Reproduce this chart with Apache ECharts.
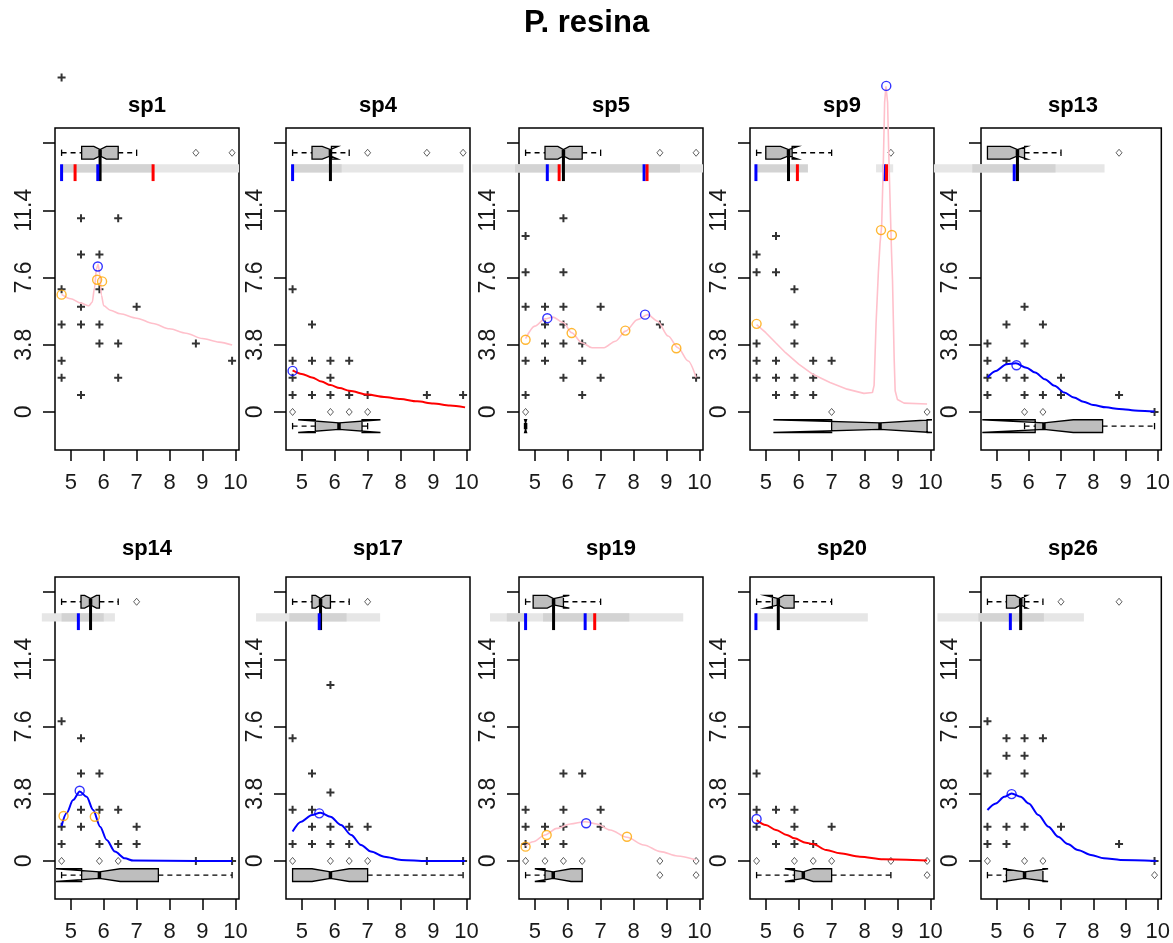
<!DOCTYPE html>
<html><head><meta charset="utf-8">
<script src="https://cdn.jsdelivr.net/npm/echarts@6/dist/echarts.min.js"></script>
<style>html,body{margin:0;padding:0;background:#fff}#c{width:1173px;height:943px}</style>
</head><body><div id="c"></div>
<script>
// ---------------- data ----------------
const TITLE = 'P. resina';
const PANELS = ['sp1','sp4','sp5','sp9','sp13','sp14','sp17','sp19','sp20','sp26'];
const X_TICKS = [5,6,7,8,9,10];
const Y_TICKS = [0,3.8,7.6,11.4,15.2];
const Y_LABELS = [0,3.8,7.6,11.4];
const X_RANGE = [4.52, 10.11];
const Y_RANGE = [-2.15, 16.05];

// black "+" observations
const PLUS = [
 [[4.72,18.9],[5.31,10.95],[6.44,10.95],[5.31,8.9],[5.87,8.9],[4.72,6.93],[5.87,6.93],[5.31,5.95],[7.0,5.95],[4.72,4.95],[5.31,4.95],[5.87,4.95],[5.87,3.87],[6.44,3.87],[8.8,3.87],[4.72,2.9],[9.9,2.9],[4.72,1.93],[6.44,1.93],[5.31,0.96]],
 [[4.72,6.93],[5.31,4.95],[4.72,2.9],[5.31,2.9],[5.87,2.9],[6.44,2.9],[4.72,1.93],[5.87,1.93],[4.72,0.96],[5.31,0.96],[5.87,0.96],[6.44,0.96],[7.0,0.96],[8.8,0.96],[9.9,0.96]],
 [[5.87,10.95],[4.72,9.95],[4.72,7.9],[5.87,7.9],[4.72,5.95],[5.31,5.95],[5.87,5.95],[7.0,5.95],[5.31,4.95],[5.87,4.95],[8.8,4.95],[5.31,3.87],[5.87,3.87],[6.44,3.87],[4.72,2.9],[5.31,2.9],[6.44,2.9],[5.87,1.93],[7.0,1.93],[9.9,1.93],[4.72,0.96],[6.44,0.96]],
 [[5.31,9.95],[4.72,8.9],[4.72,7.9],[5.31,7.9],[5.87,6.93],[5.87,4.95],[4.72,3.87],[5.87,3.87],[4.72,2.9],[5.31,2.9],[6.44,2.9],[7.0,2.9],[4.72,1.93],[5.31,1.93],[5.87,1.93],[6.44,1.93],[5.31,0.96],[5.87,0.96],[6.44,0.96]],
 [[5.87,5.95],[5.31,4.95],[6.44,4.95],[4.72,3.87],[5.87,3.87],[4.72,2.9],[5.31,2.9],[4.72,1.93],[5.31,1.93],[5.87,1.93],[7.0,1.93],[4.72,0.96],[5.87,0.96],[6.44,0.96],[7.0,0.96],[8.8,0.96],[9.9,0]],
 [[4.72,7.9],[5.31,6.93],[5.31,4.95],[5.87,4.95],[5.31,2.9],[5.87,2.9],[6.44,2.9],[4.72,1.93],[5.31,1.93],[7.0,1.93],[4.72,0.96],[5.87,0.96],[6.44,0.96],[7.0,0.96],[8.8,0],[9.9,0]],
 [[5.87,9.95],[4.72,6.93],[5.31,4.95],[5.87,3.87],[4.72,2.9],[5.31,2.9],[5.31,1.93],[5.87,1.93],[6.44,1.93],[7.0,1.93],[4.72,0.96],[5.31,0.96],[5.87,0.96],[6.44,0.96],[8.8,0],[9.9,0]],
 [[5.87,4.95],[6.44,4.95],[4.72,2.9],[5.87,2.9],[7.0,2.9],[4.72,1.93],[5.31,1.93],[5.87,1.93],[7.0,1.93],[4.72,0.96],[5.31,0.96],[5.87,0.96]],
 [[4.72,4.95],[4.72,2.9],[5.31,2.9],[5.87,2.9],[4.72,1.93],[5.87,1.93],[7.0,1.93],[5.31,0.96],[5.87,0.96],[6.44,0.96]],
 [[4.72,7.9],[5.31,6.93],[5.87,6.93],[6.44,6.93],[5.31,5.95],[5.87,5.95],[4.72,4.95],[5.87,4.95],[4.72,1.93],[5.31,1.93],[5.87,1.93],[7.0,1.93],[4.72,0.96],[5.31,0.96],[8.8,0.96],[9.9,0]]
];
// small open diamonds at zero
const ZERO_PTS = [
 [], [4.72,5.87,6.44,7.0], [4.72], [7.0,9.9], [5.87,6.44],
 [4.72,5.87,6.44], [4.72,5.87,6.44,7.0], [4.72,5.31,5.87,6.44,8.8,9.9], [4.72,5.87,6.44,7.0,8.8,9.9], [4.72,5.87,6.44]
];
// box-plot outliers (top row / bottom row)
const TOP_OUT = [[8.8,9.9],[7.0,8.8,9.9],[8.8,9.9],[8.8],[8.8],[7.0],[7.0],[],[],[7.0,8.8]];
const BOT_OUT = [[],[],[],[],[],[],[],[8.8,9.9],[9.9],[9.9]];
// notched boxes: [lowWhisker, q1, median, q3, highWhisker, notchLow, notchHigh]
const TOP_BOX = [
 [4.72,5.33,5.89,6.44,7.0,5.7,6.08],
 [4.72,5.31,5.87,5.9,6.44,5.62,6.1],
 [4.72,5.31,5.87,6.44,7.0,5.7,6.05],
 [4.72,5.0,5.69,5.8,7.0,5.45,5.98],
 [4.72,4.72,5.65,5.87,7.0,5.42,5.95],
 [4.72,5.31,5.6,5.87,6.44,5.42,5.78],
 [4.72,5.31,5.57,5.87,6.44,5.42,5.72],
 [4.72,4.95,5.57,5.87,7.0,5.38,6.05],
 [4.72,5.2,5.38,5.86,7.0,4.98,5.55],
 [4.72,5.31,5.75,5.87,6.44,5.58,5.95]
];
const BOT_BOX = [
 null,
 [4.72,5.41,6.13,6.83,7.0,4.89,7.39],
 [4.72,4.72,4.72,4.72,4.72,4.69,4.75],
 [7.0,7.0,8.47,9.9,9.9,5.23,10.05],
 [5.87,6.2,6.47,8.29,9.9,4.56,7.38],
 [4.72,5.33,5.87,7.66,9.9,4.55,6.5],
 [4.72,4.72,5.87,7.0,9.9,5.31,6.44],
 [4.72,5.31,5.56,6.44,6.44,5.0,6.1],
 [4.72,5.87,6.14,7.0,8.8,5.58,6.44],
 [4.72,5.31,5.87,6.44,6.44,5.2,6.6]
];
// interval bands (wide / narrow) and interval marks
const WIDE_BAND = [[[4.72,10.11]],[[4.72,9.91]],[[3.1,10.11]],[[8.35,8.87]],[[3.06,8.35]],[[4.12,6.34]],[[3.61,7.38]],[[3.64,9.51]],[[4.67,8.1]],[[3.17,7.71]]];
const NARROW_BAND = [[[4.72,7.5]],[[4.72,6.21]],[[4.4,9.41]],[[4.67,6.28]],[[4.25,6.83]],[[4.72,6.0]],[[4.62,6.36]],[[4.15,4.75],[5.25,7.87]],[],[[4.44,6.47]]];
const BLUE_MARKS = [[4.72,5.82],[4.72],[5.38,8.32],[4.70,8.6],[5.55],[5.23],[5.53],[4.72,6.53],[4.70],[5.43]];
const RED_MARKS = [[5.13,7.5],[],[5.74,8.41],[5.96,8.67],[],[],[],[6.82],[],[]];
// response curves
const CURVE_KIND = ['pink','red','pink','pink','blue','blue','blue','pink','red','blue'];
const CURVE = [
 [[4.72,6.65],[5.0,6.4],[5.3,6.15],[5.55,6.0],[5.65,6.2],[5.72,7.0],[5.78,8.1],[5.83,8.35],[5.88,7.8],[5.93,6.6],[6.0,6.0],[6.2,5.75],[6.5,5.55],[7.0,5.3],[7.5,5.0],[8.0,4.7],[8.5,4.45],[9.0,4.15],[9.5,3.95],[9.9,3.78]],
 [[4.72,2.35],[5.0,2.15],[5.31,1.95],[5.6,1.72],[5.87,1.52],[6.15,1.35],[6.44,1.2],[7.0,0.98],[7.5,0.85],[8.0,0.73],[8.5,0.6],[9.0,0.48],[9.5,0.37],[9.96,0.26]],
 [[4.72,4.14],[5.0,4.85],[5.31,5.26],[5.55,5.36],[5.87,5.04],[6.12,4.48],[6.43,3.91],[6.74,3.63],[7.1,3.63],[7.45,4.0],[7.76,4.57],[8.12,5.22],[8.43,5.5],[8.73,5.13],[9.05,4.29],[9.35,3.63],[9.66,2.88],[9.9,1.95]],
 [[4.72,4.94],[5.0,4.48],[5.3,3.91],[5.6,3.35],[6.0,2.7],[6.43,2.13],[6.95,1.67],[7.47,1.29],[7.98,1.05],[8.24,1.1],[8.29,1.5],[8.35,5.0],[8.42,7.9],[8.47,9.5],[8.52,10.5],[8.57,14.0],[8.61,17.5],[8.65,18.4],[8.7,17.5],[8.73,15.0],[8.77,12.3],[8.82,9.0],[8.85,7.4],[8.9,3.0],[8.93,1.2],[9.0,0.7],[9.2,0.5],[9.9,0.45]],
 [[4.72,1.95],[4.98,2.32],[5.31,2.7],[5.6,2.75],[5.93,2.5],[6.2,2.23],[6.5,1.85],[6.8,1.48],[7.1,1.1],[7.4,0.82],[7.7,0.58],[8.0,0.39],[8.4,0.26],[8.8,0.17],[9.4,0.07],[9.9,0.02]],
 [[4.72,1.98],[4.87,2.69],[5.07,3.44],[5.27,3.93],[5.48,3.63],[5.68,2.88],[5.89,1.94],[6.09,1.19],[6.34,0.53],[6.64,0.15],[6.9,0.02],[8.8,0],[9.9,0]],
 [[4.72,1.66],[4.98,2.22],[5.31,2.6],[5.56,2.73],[5.87,2.5],[6.19,2.03],[6.5,1.47],[6.8,0.9],[7.1,0.53],[7.51,0.24],[8.02,0.06],[8.8,0],[9.96,0]],
 [[4.72,0.85],[4.95,1.09],[5.31,1.47],[5.67,1.84],[6.08,2.09],[6.53,2.22],[6.88,2.09],[7.29,1.75],[7.8,1.34],[8.31,0.9],[8.82,0.53],[9.33,0.28],[9.9,0.06]],
 [[4.72,2.31],[5.0,2.03],[5.31,1.75],[5.64,1.47],[5.87,1.28],[6.22,1.03],[6.43,0.96],[6.84,0.62],[7.25,0.43],[7.86,0.24],[8.57,0.09],[9.9,0.02]],
 [[4.72,2.88],[4.98,3.25],[5.24,3.63],[5.47,3.82],[5.75,3.63],[6.0,3.25],[6.3,2.6],[6.61,1.94],[6.91,1.37],[7.21,0.96],[7.52,0.62],[7.93,0.34],[8.33,0.15],[8.84,0.06],[9.96,0]]
];
const PEAK_PTS = [[[5.82,8.22]],[[4.72,2.32]],[[5.38,5.3],[8.35,5.5]],[[8.66,18.43]],[[5.62,2.64]],[[5.27,3.97]],[[5.53,2.69]],[[6.56,2.13]],[[4.72,2.37]],[[5.47,3.78]]];
const HALF_PTS = [[[4.72,6.63],[5.8,7.47],[5.95,7.38]],[],[[4.72,4.08],[6.12,4.46],[7.75,4.6],[9.3,3.6]],[[4.72,4.98],[8.5,10.28],[8.83,10.0]],[],[[4.78,2.54],[5.73,2.5]],[],[[4.72,0.81],[5.36,1.47],[7.8,1.37]],[],[]];

// ---------------- layout / style ----------------
const COL_LEFT = [55, 286, 519, 750, 981];
const ROW_TOP = [128, 577];
const GRID_W = 184, GRID_H = 322;
const TITLE_Y = [106, 549];
const TOP_BOX_Y = 14.65, BOT_BOX_Y = -0.8, BOX_W = 0.36;
const BAND_Y = 13.77, BAND_H = 0.23, MARK_TOP = 14.0, MARK_BOT = 13.05;
const CURVE_COLOR = {pink:'#ffc0cb', red:'#ff0000', blue:'#0000ff'};
const CURVE_WIDTH = {pink:1.6, red:2, blue:2};
const FONT = "'Liberation Sans', Arial, sans-serif";
const PLUS_SYM = 'path://M3,0H5V3H8V5H5V8H3V5H0V3H3Z';

function drawBox(ch, P, s, yc) {
  const [wl,q1,med,q3,wh,c1,c2] = s, w = BOX_W;
  const dash = {stroke:'#000', lineWidth:1.3, lineDash:[5,4]};
  const solid = {stroke:'#000', lineWidth:1.3};
  const L = (x1,y1,x2,y2,st) => { const a=P(x1,y1), b=P(x2,y2); ch.push({type:'line', shape:{x1:a[0],y1:a[1],x2:b[0],y2:b[1]}, style:st}); };
  if (wl < q1) L(wl,yc,q1,yc,dash);
  if (wh > q3) L(q3,yc,wh,yc,dash);
  if (wl < q1) L(wl,yc-w/2,wl,yc+w/2,solid);
  if (wh > q3) L(wh,yc-w/2,wh,yc+w/2,solid);
  const pts = [[q1,yc-w],[q1,yc+w],[c1,yc+w],[med,yc+w/2],[c2,yc+w],[q3,yc+w],[q3,yc-w],[c2,yc-w],[med,yc-w/2],[c1,yc-w]].map(p=>P(p[0],p[1]));
  ch.push({type:'polygon', shape:{points:pts}, style:{fill:'#bebebe', stroke:'#000', lineWidth:1.3}});
  L(med,yc-w/2,med,yc+w/2,{stroke:'#000', lineWidth:3.5});
}
function decor(i) {
  return function(params, api) {
    const ch = [];
    const P = (x,y) => api.coord([x,y]);
    const band = (x0,x1,color) => { const a=P(x0,BAND_Y+BAND_H), b=P(x1,BAND_Y-BAND_H); ch.push({type:'rect', shape:{x:a[0],y:a[1],width:b[0]-a[0],height:b[1]-a[1]}, style:{fill:color}}); };
    WIDE_BAND[i].forEach(s=>band(s[0],s[1],'#e6e6e6'));
    NARROW_BAND[i].forEach(s=>band(s[0],s[1],'#d3d3d3'));
    const tb = TOP_BOX[i];
    const m0 = P(tb[2],TOP_BOX_Y), m1 = P(tb[2],MARK_BOT);
    ch.push({type:'line', shape:{x1:m0[0],y1:m0[1],x2:m1[0],y2:m1[1]}, style:{stroke:'#000', lineWidth:3}});
    const mark = (x,c) => { const a=P(x,MARK_TOP), b=P(x,MARK_BOT); ch.push({type:'line', shape:{x1:a[0],y1:a[1],x2:b[0],y2:b[1]}, style:{stroke:c, lineWidth:3}}); };
    BLUE_MARKS[i].forEach(x=>mark(x,'#0000ff'));
    RED_MARKS[i].forEach(x=>mark(x,'#ff0000'));
    drawBox(ch, P, tb, TOP_BOX_Y);
    if (BOT_BOX[i]) drawBox(ch, P, BOT_BOX[i], BOT_BOX_Y);
    return {type:'group', children:ch};
  };
}

const grids=[], xAxes=[], yAxes=[], series=[], graphics=[];
graphics.push({type:'text', left:'center', top:8, style:{text:TITLE, font:"bold 31px "+FONT, fill:'#000'}});
PANELS.forEach((name,i)=>{
  const r = Math.floor(i/5), c = i%5;
  grids.push({left:COL_LEFT[c], top:ROW_TOP[r], width:GRID_W, height:GRID_H, show:true, borderColor:'#000', borderWidth:1.5, backgroundColor:'transparent'});
  xAxes.push({gridIndex:i, type:'value', min:X_RANGE[0], max:X_RANGE[1], position:'bottom',
    axisLine:{show:false, onZero:false}, splitLine:{show:false},
    axisTick:{show:true, customValues:X_TICKS, length:11, lineStyle:{color:'#000', width:1.5}},
    axisLabel:{customValues:X_TICKS, margin:22, color:'#1a1a1a', fontSize:22, fontFamily:FONT}});
  yAxes.push({gridIndex:i, type:'value', min:Y_RANGE[0], max:Y_RANGE[1], position:'left',
    axisLine:{show:false, onZero:false}, splitLine:{show:false},
    axisTick:{show:true, customValues:Y_TICKS, length:12, lineStyle:{color:'#000', width:1.5}},
    axisLabel:{customValues:Y_LABELS, rotate:90, margin:19, color:'#1a1a1a', fontSize:23, fontFamily:FONT}});
  graphics.push({type:'text', x:COL_LEFT[c]+GRID_W/2, y:TITLE_Y[r], style:{text:name, font:"bold 22px "+FONT, fill:'#000', textAlign:'center', textVerticalAlign:'middle'}});
  series.push({type:'custom', xAxisIndex:i, yAxisIndex:i, clip:false, z:1, silent:true, data:[[5,5]], renderItem:decor(i)});
  series.push({type:'scatter', xAxisIndex:i, yAxisIndex:i, clip:false, z:2, symbol:PLUS_SYM, symbolSize:8, itemStyle:{color:'#000'}, data:PLUS[i]});
  const diam = ZERO_PTS[i].map(x=>[x,0]).concat(TOP_OUT[i].map(x=>[x,TOP_BOX_Y])).concat(BOT_OUT[i].map(x=>[x,BOT_BOX_Y]));
  series.push({type:'scatter', xAxisIndex:i, yAxisIndex:i, clip:false, z:2, symbol:'diamond', symbolSize:[6,7], itemStyle:{color:'transparent', borderColor:'#222', borderWidth:0.9}, data:diam});
  const k = CURVE_KIND[i];
  series.push({type:'line', xAxisIndex:i, yAxisIndex:i, clip:false, z:3, symbol:'none', smooth: i===3 ? false : 0.3, smoothMonotone:'x', lineStyle:{color:CURVE_COLOR[k], width:CURVE_WIDTH[k]}, data:CURVE[i]});
  series.push({type:'scatter', xAxisIndex:i, yAxisIndex:i, clip:false, z:4, symbol:'circle', symbolSize:9, itemStyle:{color:'transparent', borderColor:'#ffa500', borderWidth:1.4}, data:HALF_PTS[i]});
  series.push({type:'scatter', xAxisIndex:i, yAxisIndex:i, clip:false, z:4, symbol:'circle', symbolSize:9, itemStyle:{color:'transparent', borderColor:'#0000ff', borderWidth:1.4}, data:PEAK_PTS[i]});
});
const chart = echarts.init(document.getElementById('c'), null, {renderer:'canvas'});
chart.setOption({animation:false, backgroundColor:'#fff', grid:grids, xAxis:xAxes, yAxis:yAxes, series:series, graphic:graphics});
</script></body></html>
